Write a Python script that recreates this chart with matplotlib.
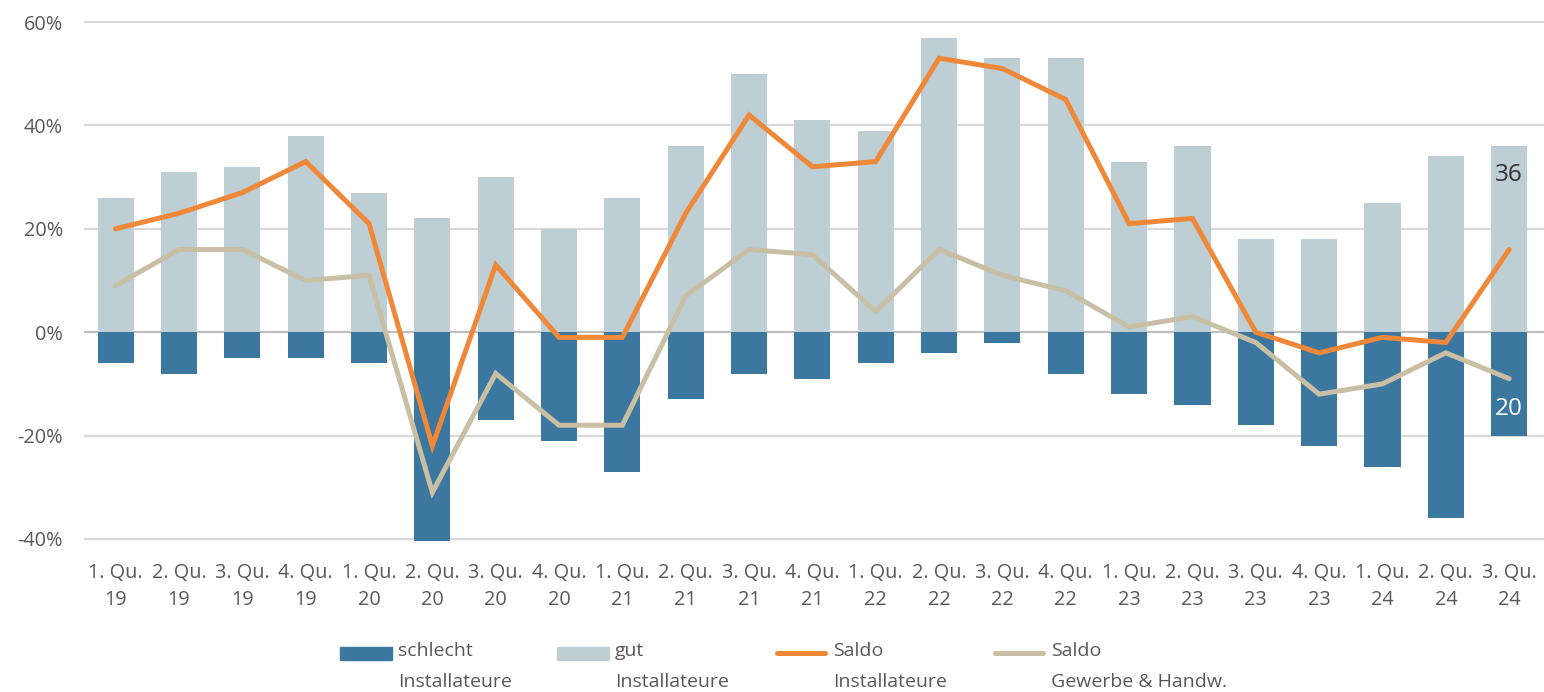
import matplotlib
matplotlib.use("Agg")
import matplotlib.pyplot as plt
from matplotlib.patches import Rectangle
from matplotlib.lines import Line2D
from matplotlib.ticker import FuncFormatter

quarters = ["1. Qu.\n19", "2. Qu.\n19", "3. Qu.\n19", "4. Qu.\n19",
            "1. Qu.\n20", "2. Qu.\n20", "3. Qu.\n20", "4. Qu.\n20",
            "1. Qu.\n21", "2. Qu.\n21", "3. Qu.\n21", "4. Qu.\n21",
            "1. Qu.\n22", "2. Qu.\n22", "3. Qu.\n22", "4. Qu.\n22",
            "1. Qu.\n23", "2. Qu.\n23", "3. Qu.\n23", "4. Qu.\n23",
            "1. Qu.\n24", "2. Qu.\n24", "3. Qu.\n24"]
gut = [26, 31, 32, 38, 27, 22, 30, 20, 26, 36, 50, 41, 39, 57, 53, 53,
       33, 36, 18, 18, 25, 34, 36]
schlecht = [-6, -8, -5, -5, -6, -41, -17, -21, -27, -13, -8, -9, -6, -4, -2, -8,
            -12, -14, -18, -22, -26, -36, -20]
saldo_inst = [20, 23, 27, 33, 21, -22, 13, -1, -1, 23, 42, 32, 33, 53, 51, 45,
              21, 22, 0, -4, -1, -2, 16]
saldo_gew = [9, 16, 16, 10, 11, -31, -8, -18, -18, 7, 16, 15, 4, 16, 11, 8,
             1, 3, -2, -12, -10, -4, -9]
yticks = [-40, -20, 0, 20, 40, 60]

C_BAD = "#3B779E"
C_GOOD = "#BDCFD4"
C_ORANGE = "#F0883A"
C_BEIGE = "#C9BFA5"
C_TEXT = "#595959"

plt.rcParams['font.family'] = ['Open Sans', 'DejaVu Sans']

W, H = 1544, 692
fig = plt.figure(figsize=(W / 100, H / 100), dpi=100)
ax = fig.add_axes([84 / W, 1 - 541 / H, 1 - 84 / W, (541 - 21) / H])

x = list(range(len(quarters)))
ax.set_ylim(-40.4, 60.2)
ax.set_xlim(-0.5, len(quarters) - 0.45)

for t in yticks:
    ax.axhline(t, color="#BFBFBF" if t == 0 else "#D9D9D9", lw=1.6, zorder=0.5)

ax.bar(x, gut, width=0.57, color=C_GOOD, zorder=2)
ax.bar(x, schlecht, width=0.57, color=C_BAD, zorder=2)
ax.plot(x, saldo_gew, color=C_BEIGE, lw=3.6, solid_capstyle="round",
        solid_joinstyle="miter", zorder=3)
ax.plot(x, saldo_inst, color=C_ORANGE, lw=3.6, solid_capstyle="round",
        solid_joinstyle="miter", zorder=4)

ax.text(x[-1], gut[-1] - 5.5, f"{gut[-1]}", ha="center", va="center",
        fontsize=17.5, color="#333333", zorder=5)
ax.text(x[-1], schlecht[-1] + 5.2, f"{-schlecht[-1]}", ha="center", va="center",
        fontsize=17.5, color="white", zorder=5)

ax.set_yticks(yticks)
ax.yaxis.set_major_formatter(FuncFormatter(lambda v, p: f"{int(v)}%"))
ax.set_xticks(x)
ax.set_xticklabels(quarters, linespacing=1.45)
ax.tick_params(axis="both", length=0, labelsize=14.3, colors=C_TEXT)
ax.tick_params(axis="y", pad=15)
ax.tick_params(axis="x", pad=16)
for s in ax.spines.values():
    s.set_visible(False)

# legend (manual, to match two-line layout)
leg_font = ['Liberation Sans Narrow', 'Open Sans', 'DejaVu Sans']
entries = [("patch", C_BAD, "schlecht\nInstallateure", 340),
           ("patch", C_GOOD, "gut\nInstallateure", 557),
           ("line", C_ORANGE, "Saldo\nInstallateure", 775),
           ("line", C_BEIGE, "Saldo\nGewerbe & Handw.", 993)]
for kind, col, lab, px in entries:
    yc = 1 - 653 / H
    if kind == "patch":
        fig.add_artist(Rectangle((px / W, 1 - 660 / H), 52 / W, 13 / H,
                                 transform=fig.transFigure, color=col))
    else:
        fig.add_artist(Line2D([(px + 2) / W, (px + 50) / W], [yc, yc],
                              transform=fig.transFigure, color=col, lw=3.6,
                              solid_capstyle="round"))
    fig.text((px + 58) / W, 1 - 642 / H, lab, ha="left", va="top",
             fontsize=14, color=C_TEXT, family=leg_font, linespacing=1.9)

fig.savefig("out.png", dpi=100)
